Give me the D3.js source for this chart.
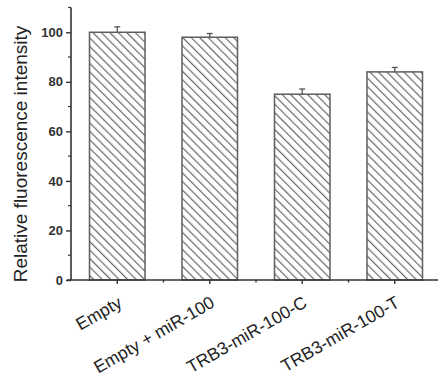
<!DOCTYPE html>
<html>
<head>
<meta charset="utf-8">
<script src="https://cdn.jsdelivr.net/npm/d3@7"></script>
<style>
  body { margin: 0; background: #fff; }
  svg { display: block; font-family: "Liberation Sans", Arial, sans-serif; }
</style>
</head>
<body>
<div id="chart"></div>
<script>
var categories = ['Empty', 'Empty + miR-100', 'TRB3-miR-100-C', 'TRB3-miR-100-T'];
var values = [100, 98, 75, 84];
var errors = [2.2, 1.5, 2.1, 1.8];
var y_ticks = [0, 20, 40, 60, 80, 100];
var y_minor = [10, 30, 50, 70, 90, 110];

var chart_width = 438;
var chart_height = 373;
var axis_color = '#333';

var svg = d3.select('#chart')
    .append('svg')
    .attr('width', chart_width)
    .attr('height', chart_height)

// hatch pattern
var defs = svg.append('defs');
var pat = defs.append('pattern')
    .attr('id', 'hatch')
    .attr('patternUnits', 'userSpaceOnUse')
    .attr('width', 6)
    .attr('height', 6)
    .attr('patternTransform', 'rotate(-45)')
pat.append('rect').attr('width', 6).attr('height', 6).attr('fill', '#fff')
pat.append('line')
    .attr('x1', 0).attr('y1', 0).attr('x2', 0).attr('y2', 6)
    .attr('stroke', '#6a6a6a')
    .attr('stroke-width', 2.4)

var x_scale = d3.scaleBand()
    .domain(categories)
    .range([71, 441])
    .paddingInner(0.4)
    .paddingOuter(0.2)

var y_scale = d3.scaleLinear()
    .domain([0, 110])
    .range([280, 7.5])

// bars
svg.selectAll('rect.bar')
    .data(values)
    .enter()
    .append('rect')
    .attr('class', 'bar')
    .attr('x', function (d, i) { return x_scale(categories[i]); })
    .attr('y', function (d) { return y_scale(d); })
    .attr('width', x_scale.bandwidth())
    .attr('height', function (d) { return y_scale(0) - y_scale(d); })
    .attr('fill', 'url(#hatch)')
    .attr('stroke', '#5e5e5e')
    .attr('stroke-width', 1.5)

// error bars (upper only)
var err = svg.selectAll('g.err')
    .data(values)
    .enter()
    .append('g')
    .attr('class', 'err')
    .attr('stroke', '#555')
    .attr('stroke-width', 1.3)
err.append('line')
    .attr('x1', function (d, i) { return x_scale(categories[i]) + x_scale.bandwidth() / 2; })
    .attr('x2', function (d, i) { return x_scale(categories[i]) + x_scale.bandwidth() / 2; })
    .attr('y1', function (d) { return y_scale(d); })
    .attr('y2', function (d, i) { return y_scale(d + errors[i]); })
err.append('line')
    .attr('x1', function (d, i) { return x_scale(categories[i]) + x_scale.bandwidth() / 2 - 3; })
    .attr('x2', function (d, i) { return x_scale(categories[i]) + x_scale.bandwidth() / 2 + 3; })
    .attr('y1', function (d, i) { return y_scale(d + errors[i]); })
    .attr('y2', function (d, i) { return y_scale(d + errors[i]); })

// y axis
var y_axis = svg.append('g')
    .attr('transform', 'translate(71,0)')
    .call(d3.axisLeft(y_scale).tickValues(y_ticks).tickSize(5).tickPadding(3))
y_axis.select('.domain').remove()
y_axis.append('line')
    .attr('x1', 0).attr('x2', 0)
    .attr('y1', y_scale(0)).attr('y2', y_scale(110))
    .attr('stroke', axis_color).attr('stroke-width', 1.6)
y_axis.selectAll('.tick line').attr('stroke', axis_color).attr('stroke-width', 1.4)
y_axis.selectAll('.tick text')
    .attr('font-size', 13)
    .attr('font-weight', 'bold')
    .attr('fill', '#333')
    .attr('font-family', '"Liberation Sans", Arial, sans-serif')
y_axis.selectAll('line.minor')
    .data(y_minor)
    .enter()
    .append('line')
    .attr('class', 'minor')
    .attr('x1', -3).attr('x2', 0)
    .attr('y1', function (d) { return y_scale(d); })
    .attr('y2', function (d) { return y_scale(d); })
    .attr('stroke', axis_color).attr('stroke-width', 1.2)

// x axis
var x_axis = svg.append('g')
    .attr('transform', 'translate(0,' + y_scale(0) + ')')
x_axis.append('line')
    .attr('x1', 67).attr('x2', chart_width)
    .attr('stroke', axis_color).attr('stroke-width', 1.6)
x_axis.selectAll('line.major')
    .data(categories)
    .enter()
    .append('line')
    .attr('class', 'major')
    .attr('x1', function (d) { return x_scale(d) + x_scale.bandwidth() / 2; })
    .attr('x2', function (d) { return x_scale(d) + x_scale.bandwidth() / 2; })
    .attr('y1', 0).attr('y2', 4)
    .attr('stroke', axis_color).attr('stroke-width', 1.4)
x_axis.selectAll('line.minor')
    .data(categories.slice(1))
    .enter()
    .append('line')
    .attr('class', 'minor')
    .attr('x1', function (d) { return x_scale(d) - x_scale.step() * x_scale.paddingInner() / 2; })
    .attr('x2', function (d) { return x_scale(d) - x_scale.step() * x_scale.paddingInner() / 2; })
    .attr('y1', 0).attr('y2', 2.5)
    .attr('stroke', axis_color).attr('stroke-width', 1.4)
x_axis.selectAll('text')
    .data(categories)
    .enter()
    .append('text')
    .text(function (d) { return d; })
    .attr('transform', function (d) {
        return 'translate(' + (x_scale(d) + x_scale.bandwidth() / 2 + 6) + ',26) rotate(-30)';
    })
    .attr('text-anchor', 'end')
    .attr('font-size', 17.5)
    .attr('fill', '#222')

// y label
svg.append('text')
    .text('Relative fluorescence intensity')
    .attr('transform', 'translate(26.5,' + 154 + ') rotate(-90)')
    .attr('text-anchor', 'middle')
    .attr('font-size', 19)
    .attr('fill', '#222')
</script>
</body>
</html>
